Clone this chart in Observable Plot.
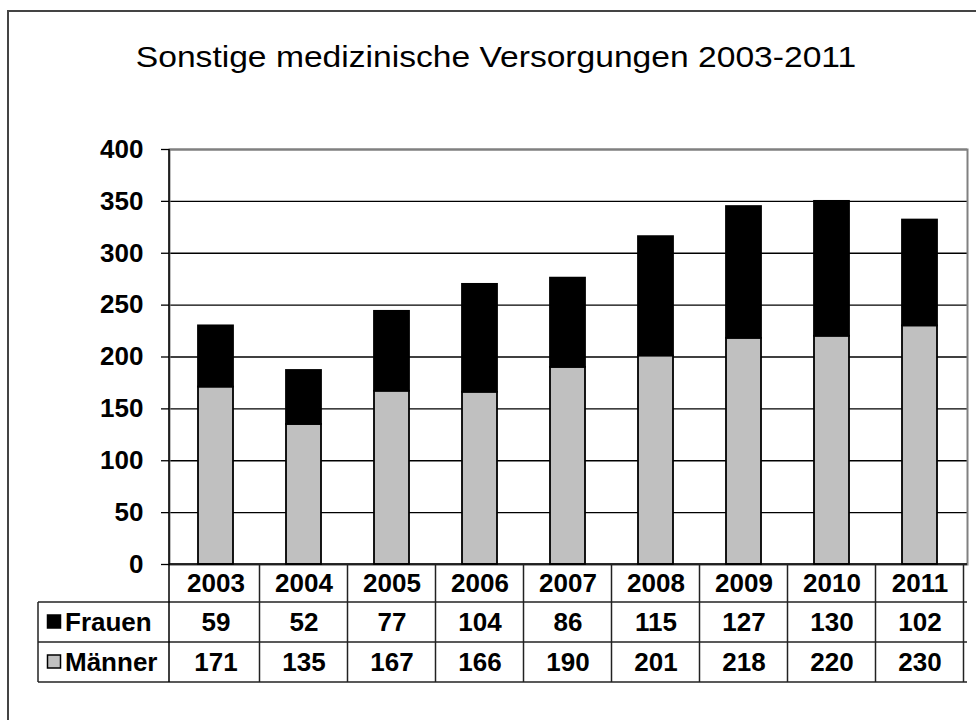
<!DOCTYPE html>
<html><head><meta charset="utf-8">
<script src="https://cdn.jsdelivr.net/npm/d3@7"></script>
<script src="https://cdn.jsdelivr.net/npm/@observablehq/plot@0.6"></script>
<style>
body{margin:0;background:#fff;}
#wrap{position:relative;width:976px;height:720px;overflow:hidden;font-family:"Liberation Sans",Arial,sans-serif;}
#chart{position:absolute;left:0;top:0;}
#border{position:absolute;left:7px;top:10px;width:1000px;height:800px;border-left:2px solid #444;border-top:2px solid #444;}
#title{position:absolute;left:496px;top:42px;line-height:30px;font-size:30px;color:#000;white-space:nowrap;transform:translateX(-50%) scaleX(1.12);}
</style></head><body>
<div id="wrap"><div id="border"></div><div id="chart"></div><div id="title">Sonstige medizinische Versorgungen 2003-2011</div></div>
<script>
const years = ["2003","2004","2005","2006","2007","2008","2009","2010","2011"];
const frauen = [59,52,77,104,86,115,127,130,102];
const maenner = [171,135,167,166,190,201,218,220,230];
const series = ["Männer","Frauen"];
const seriesColors = ["#c0c0c0","#000000"];
const yTicks = [0,50,100,150,200,250,300,350,400];

const rows = [
  ...years.map((y,i)=>({year:y, sex:"Männer", value:maenner[i]})),
  ...years.map((y,i)=>({year:y, sex:"Frauen", value:frauen[i]}))
];
const fRow = years.map((y,i)=>({year:y, v:frauen[i]}));
const mRow = years.map((y,i)=>({year:y, v:maenner[i]}));

const chart = Plot.plot({
  width:976, height:720,
  marginLeft:169, marginRight:9, marginTop:149, marginBottom:156,
  style:{fontFamily:"Liberation Sans, Arial, sans-serif", fontSize:"26px", fontWeight:"bold", background:"transparent", color:"#000", overflow:"visible"},
  x:{type:"band", domain:years, paddingInner:0.6, paddingOuter:0.3, axis:null},
  y:{domain:[0,400], axis:null},
  color:{domain:series, range:seriesColors},
  marks:[
    Plot.gridY({ticks:yTicks, stroke:"#000", strokeOpacity:1, strokeWidth:1.3}),
    Plot.frame({stroke:"#808080", strokeWidth:2}),
    Plot.barY(rows, {x:"year", y:"value", fill:"sex", stroke:"#000", strokeWidth:1.8}),
    Plot.axisY({ticks:yTicks, label:null, tickSize:8, tickPadding:18, stroke:"#000", strokeWidth:1.3}),
    Plot.text(years, {x:d=>d, frameAnchor:"bottom", lineAnchor:"middle", dy:19, fill:"#000"}),
    Plot.text(fRow, {x:"year", text:"v", frameAnchor:"bottom", lineAnchor:"middle", dy:58, fill:"#000"}),
    Plot.text(mRow, {x:"year", text:"v", frameAnchor:"bottom", lineAnchor:"middle", dy:98, fill:"#000"})
  ]
});
document.getElementById("chart").appendChild(chart);

// table grid and legend, positioned from Plot's own scales
const svg = d3.select(chart);
const xs = chart.scale("x"), ys = chart.scale("y");
const xl = xs.range[0], xr = xs.range[1];
const y0 = ys.apply(0), yTop = ys.apply(400);
const r1 = y0 + 38, r2 = y0 + 78, r3 = y0 + 118;
const tableLeft = 38;
const g = svg.append("g").attr("stroke","#222").attr("stroke-width",1.5);
const line = (x1,y1,x2,y2,c) => g.append("line").attr("x1",x1).attr("y1",y1).attr("x2",x2).attr("y2",y2).attr("stroke",c||null);
line(xl, y0, xr, y0, "#000");
line(tableLeft, r1, xr, r1);
line(tableLeft, r2, xr, r2);
line(tableLeft, r3, xr, r3);
line(xl, yTop, xl, r3, "#000");
line(tableLeft, r1, tableLeft, r3);
years.forEach(y => {
  const c = xs.apply(y) + xs.bandwidth/2;
  line(c + xs.step/2, y0, c + xs.step/2, r3);
});
// legend keys in the row header
const lg = svg.append("g").attr("text-anchor","start");
[[series[1], seriesColors[1], y0+58],[series[0], seriesColors[0], y0+98]].forEach(([name,col,cy]) => {
  lg.append("rect").attr("x",47.5).attr("y",cy-7).attr("width",13).attr("height",13)
    .attr("fill",col).attr("stroke","#000").attr("stroke-width",1.5);
  lg.append("text").attr("x",65).attr("y",cy).attr("dy","0.35em").attr("text-anchor","start").attr("fill","#000").text(name);
});
</script>
</body></html>
